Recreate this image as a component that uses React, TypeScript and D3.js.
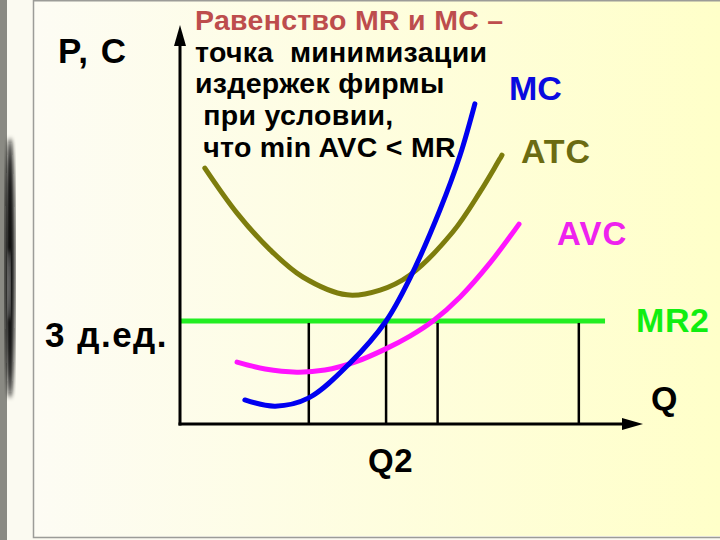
import * as d3 from "d3";
import { useEffect, useRef } from "react";

// curves in (Q, P) units, P measured in д.ед.
const mcQ = [1.41, 2.07, 2.80, 3.70, 4.48, 5.0, 5.65, 6.09, 6.41];
const mcP = [0.70, 0.52, 0.76, 1.78, 3.0, 4.25, 6.23, 7.83, 9.32];

const atcQ = [0.54, 1.24, 1.96, 2.67, 3.63, 4.35, 5.0, 5.93, 6.52, 7.0];
const atcP = [7.45, 6.14, 5.07, 4.28, 3.76, 3.90, 4.34, 5.59, 6.75, 7.83];

const avcQ = [1.24, 1.85, 2.54, 3.15, 3.80, 4.46, 5.0, 5.5, 6.09, 6.74, 7.37];
const avcP = [1.80, 1.60, 1.51, 1.57, 1.80, 2.18, 2.56, 3.0, 3.70, 4.69, 5.82];

const mrPrice = 3;
const mrEnd = 9.24;
const dropQ = [2.8, 4.48, 5.6, 8.67];
const q2 = 4.48;

const titleLines = [
    "Равенство MR и MC –",
    "точка  минимизации",
    "издержек фирмы",
    " при условии,",
    " что min AVC < MR",
];

const FONT = "'Liberation Sans', Arial, sans-serif";

function zip(qs: number[], ps: number[]) {
    return qs.map((q, i) => [q, ps[i]] as [number, number]);
}

function drawChart(svgEl: SVGSVGElement) {
    const svg = d3.select(svgEl);
    svg.selectAll("*").remove();

    const W = 720, H = 540;
    const x = d3.scaleLinear().domain([0, 10]).range([180, 640]);
    const y = d3.scaleLinear().domain([0, 11.5]).range([424, 29]);

    const defs = svg.append("defs");
    const grad = defs.append("linearGradient").attr("id", "bg")
        .attr("x1", "0").attr("x2", "1").attr("y1", "0").attr("y2", "0");
    grad.append("stop").attr("offset", "0").attr("stop-color", "#fdfcf4");
    grad.append("stop").attr("offset", "1").attr("stop-color", "#ffffc9");
    defs.append("filter").attr("id", "blur")
        .append("feGaussianBlur").attr("stdDeviation", 2);

    // page background / frame
    svg.append("rect").attr("width", W).attr("height", H).attr("fill", "#fbfaf1");
    svg.append("rect").attr("x", 0).attr("width", 7).attr("height", H).attr("fill", "#8a8a83");
    svg.append("ellipse")
        .attr("cx", 10).attr("cy", 268).attr("rx", 5).attr("ry", 130)
        .attr("fill", "#111").attr("filter", "url(#blur)");
    svg.append("ellipse")
        .attr("cx", 9).attr("cy", 285).attr("rx", 1.2).attr("ry", 35)
        .attr("fill", "#ccc").attr("filter", "url(#blur)");
    svg.append("rect").attr("x", 34).attr("y", 1).attr("width", W - 34).attr("height", 535)
        .attr("fill", "url(#bg)");
    svg.append("path")
        .attr("d", `M${W},0.75H33.5V537.5H${W}`)
        .attr("fill", "none").attr("stroke", "#9c9c98").attr("stroke-width", 1.5);

    // price line MR2
    svg.append("line")
        .attr("x1", x(0)).attr("x2", x(mrEnd))
        .attr("y1", y(mrPrice)).attr("y2", y(mrPrice))
        .attr("stroke", "#22ee22").attr("stroke-width", 5);

    // drop lines
    svg.selectAll(".drop")
        .data(dropQ)
        .enter()
        .append("line")
        .attr("x1", d => x(d)).attr("x2", d => x(d))
        .attr("y1", y(mrPrice) + 2).attr("y2", y(0))
        .attr("stroke", "#000").attr("stroke-width", 2.5);

    const line = d3.line<[number, number]>()
        .x(d => x(d[0]))
        .y(d => y(d[1]))
        .curve(d3.curveCatmullRom.alpha(0.5));

    const curves = [
        { data: zip(atcQ, atcP), color: "#7d7d0d" },
        { data: zip(avcQ, avcP), color: "#ff14ff" },
        { data: zip(mcQ, mcP), color: "#0000f0" },
    ];
    curves.forEach(c => {
        svg.append("path")
            .datum(c.data)
            .attr("d", line)
            .attr("fill", "none")
            .attr("stroke", c.color)
            .attr("stroke-width", 5)
            .attr("stroke-linecap", "round");
    });

    // axes
    svg.append("line")
        .attr("x1", x(0)).attr("x2", x(0))
        .attr("y1", y(0) + 1.5).attr("y2", 40)
        .attr("stroke", "#000").attr("stroke-width", 3);
    svg.append("path")
        .attr("d", `M${x(0)},25L${x(0) - 6},46L${x(0) + 6},46Z`)
        .attr("fill", "#000");
    svg.append("line")
        .attr("x1", x(0) - 1.5).attr("x2", 628)
        .attr("y1", y(0)).attr("y2", y(0))
        .attr("stroke", "#000").attr("stroke-width", 3);
    svg.append("path")
        .attr("d", `M643,${y(0)}L622,${y(0) - 6}L622,${y(0) + 6}Z`)
        .attr("fill", "#000");

    // labels
    const label = (tx: string, lx: number, ly: number, color: string, size = 34, ls = 0) =>
        svg.append("text")
            .attr("x", lx).attr("y", ly)
            .attr("fill", color)
            .style("font-family", FONT)
            .style("font-weight", "bold")
            .style("font-size", `${size}px`)
            .style("letter-spacing", `${ls}px`)
            .text(tx);

    label("P, C", 58, 63, "#000", 35, 1.5);
    label("3 д.ед.", 45, 347, "#000", 35, 1.5);
    label("Q", 651, 410, "#000");
    label("Q2", x(q2) - 18, 472, "#000", 33, 0.5);
    label("MC", 509, 100, "#0a0ae0");
    label("ATC", 521, 163, "#6b6b12", 34, 0.8);
    label("AVC", 557, 245, "#ee22ee", 33, 1);
    label("MR2", 636, 332, "#11ee11", 34, 0.6);

    titleLines.forEach((t, i) => {
        svg.append("text")
            .attr("x", 195).attr("y", 30 + i * 31.7)
            .attr("fill", i === 0 ? "#bd4d4d" : "#000")
            .style("font-family", FONT)
            .style("font-weight", "bold")
            .style("font-size", "28.5px")
            .style("letter-spacing", "0.3px")
            .style("white-space", "pre")
            .text(t);
    });
}

export default function App() {
    const svgRef = useRef<SVGSVGElement>(null);

    useEffect(() => {
        if (svgRef.current) drawChart(svgRef.current);
    }, []);

    return (
        <svg
            ref={svgRef}
            width={720}
            height={540}
            style={{ position: "absolute", left: 0, top: 0, display: "block" }}
        />
    );
}
